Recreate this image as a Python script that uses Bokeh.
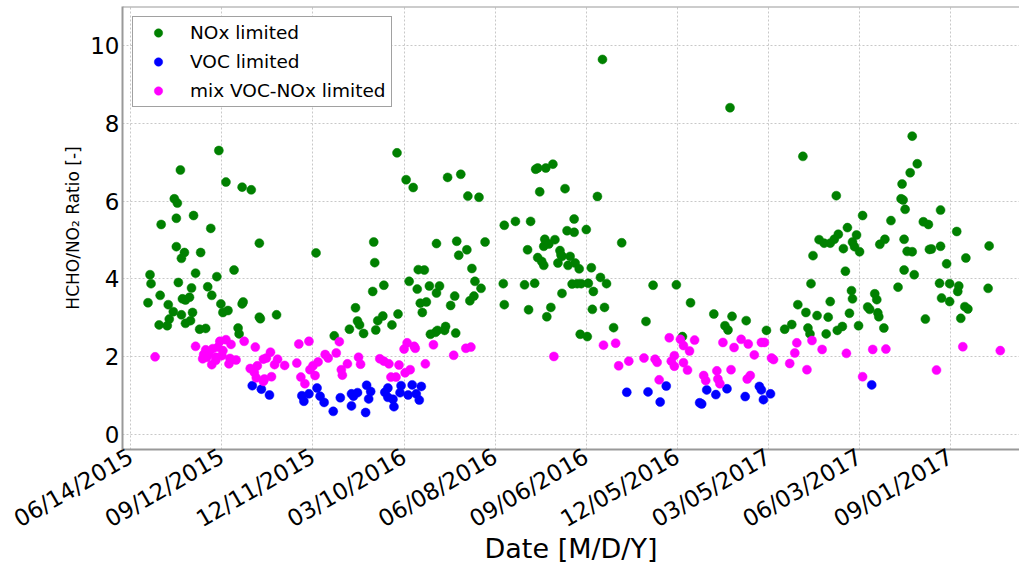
import math
import pandas as pd
from bokeh.plotting import figure
from bokeh.models import (Range1d, FixedTicker, DatetimeTickFormatter, Span, ColumnDataSource)
from bokeh.embed import file_html
from bokeh.resources import INLINE

# ---------------- data (days since 2015-06-14, HCHO/NO2 ratio) ----------------
origin = pd.Timestamp("2015-06-14")

nox_days = [87, 49, 94, 110, 119, 43, 46, 30, 45, 62, 79, 127, 45, 53, 50, 69, 102, 19, 20, 64,
            85, 47, 60, 76, 29, 80, 51, 54, 58, 17, 37, 89, 110, 111, 42, 50, 61, 91, 96, 127,
            128, 144, 38, 28, 36, 54, 59, 68, 74, 106, 107,
            263, 272, 279, 183, 240, 241, 284, 290, 275, 250, 283, 295, 239, 286, 292, 288, 222, 264, 249,
            244, 224, 226, 216, 230, 242, 258, 201, 296,
            305, 302, 302, 313, 326, 333, 344, 322, 324, 332, 350, 337, 340, 346, 320, 316, 335, 339, 301,
            303, 310, 311, 321,
            369, 380, 395, 368, 389, 399, 369, 393, 400, 402, 410, 417, 404, 429, 438, 431, 438, 409, 419,
            408, 413, 392, 402, 406, 408, 424, 425, 426, 434, 422, 432, 439, 436, 426, 415, 411,
            443, 441, 445, 452, 455, 464, 470, 457, 456, 468, 477, 444, 451, 450, 485, 461, 466, 516, 539,
            509, 553, 576, 545,
            592, 664, 697, 723, 708, 717, 699, 695, 691, 680, 685, 713, 715, 720, 704, 674, 706, 672, 712,
            713, 691, 659, 667, 678, 689, 710, 719, 703, 698, 687, 653, 646, 669, 671, 628, 594, 608, 587, 590,
            772, 777, 770, 762, 761, 763, 765, 800, 751, 783, 788, 816, 745, 740, 764, 767, 772, 789, 791,
            800, 848, 825, 806, 764, 774, 758, 799, 809, 818, 817, 847, 801, 809, 824, 827, 820, 785, 735,
            737, 728, 730, 738, 739, 744]
nox_ratio = [7.30, 6.80, 6.49, 6.36, 6.29, 6.06, 5.95, 5.40, 5.56, 5.63, 5.30, 4.92, 4.83, 4.68, 4.53, 4.68,
             4.23, 4.11, 3.88, 4.15, 4.06, 3.91, 3.77, 3.80, 3.58, 3.58, 3.49, 3.46, 3.53, 3.39, 3.34, 3.36,
             3.36, 3.41, 3.16, 3.08, 3.14, 3.14, 3.19, 3.02, 2.98, 3.08, 2.97, 2.82, 2.80, 2.86, 2.93, 2.71,
             2.73, 2.74, 2.59,
             7.24, 6.55, 6.35, 4.67, 4.95, 4.42, 4.24, 4.23, 3.94, 3.84, 3.74, 3.82, 3.68, 3.38, 3.41, 3.14,
             3.26, 3.10, 3.05, 2.93, 2.92, 2.82, 2.71, 2.60, 2.69, 2.82, 2.54, 2.58,
             3.82, 3.64, 4.91, 6.61, 6.69, 6.13, 6.10, 4.97, 4.61, 4.75, 4.95, 4.27, 3.94, 3.76, 3.56, 3.32,
             3.44, 3.56, 2.63, 2.68, 2.68, 2.78, 2.61,
             5.38, 5.48, 5.48, 3.88, 3.85, 3.89, 3.34, 3.21, 6.82, 6.85, 6.85, 6.95, 6.24, 6.32, 5.54, 5.24,
             5.20, 5.02, 5.01, 4.84, 4.90, 4.75, 4.55, 4.45, 4.35, 4.73, 4.62, 4.58, 4.58, 4.41, 4.35, 4.41,
             3.87, 3.63, 3.27, 3.03,
             4.26, 3.88, 3.88, 3.89, 4.29, 4.04, 3.88, 3.68, 3.22, 3.27, 2.75, 2.58, 2.52, 5.27, 4.93, 6.12,
             9.64, 3.84, 3.85, 2.91, 3.39, 3.10, 2.52,
             8.40, 7.15, 6.14, 5.63, 5.32, 5.13, 5.15, 5.02, 4.92, 5.01, 4.92, 4.95, 4.83, 4.70, 4.78, 4.60,
             4.20, 3.88, 3.70, 3.49, 3.42, 3.34, 3.14, 3.06, 3.02, 3.12, 2.80, 2.78, 2.68, 2.59, 2.83, 2.71,
             2.74, 2.59, 2.68, 3.04, 2.93, 2.80, 2.69,
             7.67, 6.96, 6.73, 6.44, 6.06, 6.03, 5.79, 5.77, 5.50, 5.47, 5.40, 5.22, 5.02, 4.89, 5.02, 4.71,
             4.70, 4.76, 4.77, 4.84, 4.85, 4.54, 4.39, 4.23, 4.11, 3.79, 3.89, 3.88, 3.82, 3.68, 3.76, 3.51,
             3.42, 3.29, 3.23, 2.99, 2.97, 3.62, 3.47, 3.28, 3.22, 3.13, 3.03, 2.74]

voc_days = [120, 129, 137,
            184, 169, 171, 176, 187, 191, 200, 207, 218, 220, 224, 218, 233, 237, 235, 232, 251, 254, 254,
            259, 260, 266, 267, 274, 278, 282, 285, 287,
            490, 511, 529, 523, 562, 564, 569, 578,
            589, 607, 621, 623, 625, 632,
            732]
voc_ratio = [1.26, 1.17, 1.02,
             1.20, 1.00, 0.86, 1.05, 0.99, 0.83, 0.60, 0.95, 1.05, 0.99, 1.08, 0.74, 1.27, 1.11, 0.92, 0.57,
             1.09, 1.20, 0.96, 0.91, 0.72, 1.08, 1.26, 1.02, 1.28, 1.05, 0.89, 1.24,
             1.09, 1.10, 1.25, 0.84, 0.82, 0.79, 1.15, 1.03,
             1.18, 0.98, 1.24, 1.15, 0.90, 1.05,
             1.28]

mix_days = [24, 64, 74, 81, 88, 94, 99, 86, 91, 72, 77, 84, 90, 71, 75, 80, 84, 98, 104, 97, 112, 123,
            138, 131, 134, 145, 142, 152, 118, 125, 122, 124, 132, 131, 139,
            166, 176, 164, 206, 203, 192, 195, 185, 180, 177, 182, 168, 172, 214, 208, 209, 225, 227, 246,
            250, 255, 265, 257, 262, 271, 276, 273, 270, 280, 281, 291,
            299, 319, 331, 336, 418,
            467, 479, 482, 492, 507, 518, 520, 522, 532, 543, 546, 552, 557, 537, 534, 537, 546, 550, 566,
            568, 579, 580, 582,
            585, 596, 603, 610, 623, 626, 616, 633, 635, 651, 656, 658, 673, 683, 668, 707, 723, 593, 609, 612,
            733, 746, 822, 859, 796]
mix_ratio = [2.00, 2.27, 2.18, 2.21, 2.40, 2.44, 2.32, 2.25, 2.16, 2.06, 2.08, 1.99, 2.03, 1.95, 1.99, 1.80,
             1.91, 1.96, 1.92, 1.82, 2.40, 2.25, 2.12, 1.94, 1.97, 1.94, 1.80, 1.78, 1.70, 1.77, 1.60, 1.46,
             1.43, 1.37, 1.49,
             2.33, 2.40, 1.84, 2.39, 2.10, 2.06, 1.97, 1.87, 1.77, 1.67, 1.52, 1.48, 1.31, 1.82, 1.67, 1.53,
             1.99, 1.81, 1.95, 1.89, 1.82, 1.79, 1.48, 1.48, 1.59, 1.67, 2.36, 2.20, 2.27, 2.22, 1.82,
             2.31, 2.04, 2.22, 2.25, 2.01,
             2.30, 2.35, 1.77, 1.89, 1.97, 1.94, 1.86, 1.41, 2.49, 2.45, 2.29, 2.15, 2.43, 2.03, 1.89, 1.76,
             1.85, 1.66, 1.52, 1.39, 1.64, 1.43, 1.31,
             2.37, 2.24, 2.45, 2.33, 2.37, 2.37, 2.05, 1.97, 1.93, 1.83, 2.10, 2.36, 2.42, 2.19, 1.67, 2.09,
             1.49, 1.67, 1.43, 1.52,
             2.19, 2.20, 2.26, 2.16, 1.66]

tick_days = [0, 90, 180, 270, 360, 450, 540, 630, 720, 810]
y_ticks = [0, 2, 4, 6, 8, 10]

series = [
    ("NOx limited", nox_days, nox_ratio, "#008000"),
    ("VOC limited", voc_days, voc_ratio, "#0000ff"),
    ("mix VOC-NOx limited", mix_days, mix_ratio, "#ff00ff"),
]

# ---------------- figure ----------------
def to_date(days):
    return origin + pd.to_timedelta(pd.Series(days, dtype=float), unit="D")

FONT = "DejaVu Sans"
p = figure(width=1019, height=567, x_axis_type="datetime", output_backend="svg",
           toolbar_location=None,
           x_range=Range1d(origin - pd.Timedelta(days=8.2), origin + pd.Timedelta(days=878)),
           y_range=Range1d(-0.38, 11.0),
           min_border_left=122, min_border_right=0, min_border_top=6, min_border_bottom=118)
p.background_fill_color = "white"
p.border_fill_color = "white"
p.outline_line_color = None

for name, d, r, c in series:
    src = ColumnDataSource(dict(x=to_date(d), y=r))
    p.scatter("x", "y", source=src, size=9, fill_color=c, line_color=c, line_width=0.5,
              legend_label=name)

tick_ms = [(origin + pd.Timedelta(days=t)).value / 1e6 for t in tick_days]
p.xaxis.ticker = FixedTicker(ticks=tick_ms)
fmt = "%m/%d/%Y"
p.xaxis.formatter = DatetimeTickFormatter(microseconds=fmt, milliseconds=fmt, seconds=fmt,
                                          minsec=fmt, minutes=fmt, hourmin=fmt, hours=fmt,
                                          days=fmt, months=fmt, years=fmt)
p.yaxis.ticker = FixedTicker(ticks=y_ticks)
p.xaxis.major_label_orientation = math.pi / 6

for ax in (p.xaxis, p.yaxis):
    ax.axis_line_color = "#999999"
    ax.axis_line_width = 2
    ax.major_tick_line_color = None
    ax.minor_tick_line_color = None
    ax.major_tick_out = 0
    ax.major_tick_in = 0
    ax.minor_tick_out = 0
    ax.minor_tick_in = 0
    ax.major_label_text_font = FONT
    ax.major_label_text_font_size = "23px"
    ax.major_label_text_color = "black"
    ax.axis_label_text_font = FONT
    ax.axis_label_text_font_style = "normal"
    ax.axis_label_text_color = "black"
p.xaxis.major_label_standoff = 5
p.yaxis.major_label_standoff = 3

p.xaxis.axis_label = "Date [M/D/Y]"
p.xaxis.axis_label_text_font_size = "27px"
p.xaxis.axis_label_standoff = -13

p.yaxis.axis_label = "HCHO/NO₂ Ratio [-]"
p.yaxis.axis_label_text_font_size = "17px"
p.yaxis.axis_label_standoff = 4

for g in (p.xgrid, p.ygrid):
    g.grid_line_color = "#c8c8c8"
    g.grid_line_dash = "2 2"
    g.grid_line_width = 1
p.ygrid.ticker = FixedTicker(ticks=y_ticks)
p.xgrid.ticker = FixedTicker(ticks=tick_ms)

p.add_layout(Span(location=11.0, dimension="width", line_color="#999999", line_width=2))

lg = p.legend[0]
lg.location = "top_left"
lg.margin = 10
lg.padding = 5
lg.spacing = 8
lg.glyph_width = 40
lg.glyph_height = 21
lg.label_height = 21
lg.label_standoff = 12
lg.label_text_font = FONT
lg.label_text_font_size = "18.5px"
lg.label_text_color = "black"
lg.border_line_color = "#444444"
lg.border_line_width = 1
lg.background_fill_color = "white"
lg.background_fill_alpha = 1.0

open("out.html", "w").write(file_html(p, INLINE))
